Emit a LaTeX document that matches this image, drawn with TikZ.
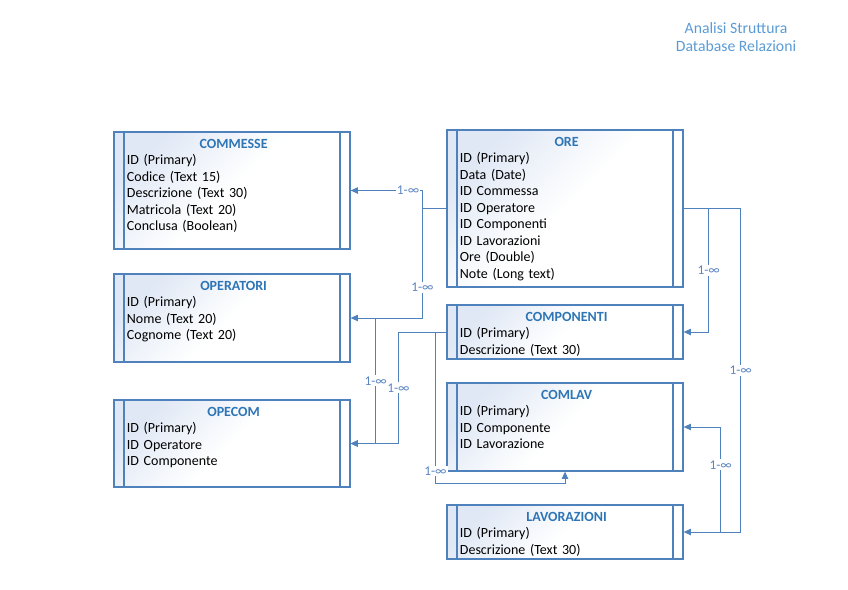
\documentclass[tikz,border=0pt]{standalone}
\usepackage{fontspec}
\setmainfont{Carlito}
\usetikzlibrary{positioning,arrows.meta}
\definecolor{edge}{HTML}{4F81BD}
\definecolor{link}{HTML}{5A84C2}
\definecolor{tabhead}{HTML}{2E75B6}
\definecolor{tint}{HTML}{E0E8F5}
\definecolor{headblue}{HTML}{5B9BD5}
\newcommand\tabtitle[1]{\makebox[\linewidth]{\color{tabhead}\bfseries #1}}
\tikzset{
  tbl/.style={draw=edge,line width=0.9pt,left color=tint,right color=white,middle color=white,shading angle=45,
    minimum width=177pt,minimum height=#1,inner sep=0pt,
    path picture={\draw[edge,line width=0.9pt]
      ([xshift=7.5pt]path picture bounding box.north west) -- ([xshift=7.5pt]path picture bounding box.south west)
      ([xshift=-7.5pt]path picture bounding box.north east) -- ([xshift=-7.5pt]path picture bounding box.south east);}},
  fld/.style={text width=160pt,align=left,inner sep=0pt,xshift=1.2pt,font=\fontsize{10.5}{12.4}\selectfont},
  rel/.style={draw=edge,line width=0.75pt,-{Triangle[length=5.5pt,width=4.8pt]}},
  lbl/.style={fill=white,inner sep=0.8pt,text=link,font=\fontsize{10}{12}\selectfont},
}
\begin{document}
\begin{tikzpicture}[x=0.75pt,y=-0.75pt]
\useasboundingbox (0,0) rectangle (848,589);
\node[align=center,text=headblue,font=\fontsize{11.8}{13.5}\selectfont] (title) at (736,37) {Analisi Struttura\\Database Relazioni};
\node[tbl=87.75pt] (commesse) at (232,190.5) {};
\node[tbl=66pt] (operatori) at (232,318) {};
\node[tbl=65.25pt] (opecom) at (232,443.5) {};
\node[tbl=117.75pt] (ore) at (565,208.5) {};
\node[tbl=40.5pt] (componenti) at (565,332) {};
\node[tbl=66pt] (comlav) at (565,427) {};
\node[tbl=40.5pt] (lavorazioni) at (565,532) {};
\node[fld,below=5.5pt of commesse.north] (commesse-f) {\tabtitle{COMMESSE}\\ID (Primary)\\Codice (Text 15)\\Descrizione (Text 30)\\Matricola (Text 20)\\Conclusa (Boolean)};
\node[fld,below=5.5pt of operatori.north] (operatori-f) {\tabtitle{OPERATORI}\\ID (Primary)\\Nome (Text 20)\\Cognome (Text 20)};
\node[fld,below=5.5pt of opecom.north] (opecom-f) {\tabtitle{OPECOM}\\ID (Primary)\\ID Operatore\\ID Componente};
\node[fld,below=5.5pt of ore.north] (ore-f) {\tabtitle{ORE}\\ID (Primary)\\Data (Date)\\ID Commessa\\ID Operatore\\ID Componenti\\ID Lavorazioni\\Ore (Double)\\Note (Long text)};
\node[fld,below=5.5pt of componenti.north] (componenti-f) {\tabtitle{COMPONENTI}\\ID (Primary)\\Descrizione (Text 30)};
\node[fld,below=5.5pt of comlav.north] (comlav-f) {\tabtitle{COMLAV}\\ID (Primary)\\ID Componente\\ID Lavorazione};
\node[fld,below=5.5pt of lavorazioni.north] (lavorazioni-f) {\tabtitle{LAVORAZIONI}\\ID (Primary)\\Descrizione (Text 30)};
\draw[rel] (ore.west) -- ++(-24,0) -- ++(0,-18) -- node[lbl,pos=0.2]{1-∞} (commesse.east);
\draw[rel] (ore.west) -- ++(-24,0) -- node[lbl,pos=0.72]{1-∞} ++(0,109.5) -- (operatori.east);
\draw[rel] (operatori.east) ++(25,0) -- node[lbl]{1-∞} ++(0,125.5) -- (opecom.east);
\draw[rel] (componenti.west) -- ++(-48,0) -- node[lbl]{1-∞} ++(0,111.5) -- (opecom.east);
\draw[rel] (componenti.west) -- ++(-11,0) -- node[lbl,pos=0.92]{1-∞} ++(0,151) -| (comlav.south);
\draw[rel] (ore.east) -- ++(57,0) -- node[lbl]{1-∞} ++(0,323.5) -- (lavorazioni.east);
\draw[rel] (ore.east) -- ++(25,0) -- node[lbl]{1-∞} ++(0,123.5) -- (componenti.east);
\draw[rel] (lavorazioni.east) ++(37,0) -- node[lbl,pos=0.64]{1-∞} ++(0,-105) -- (comlav.east);
\end{tikzpicture}
\end{document}
